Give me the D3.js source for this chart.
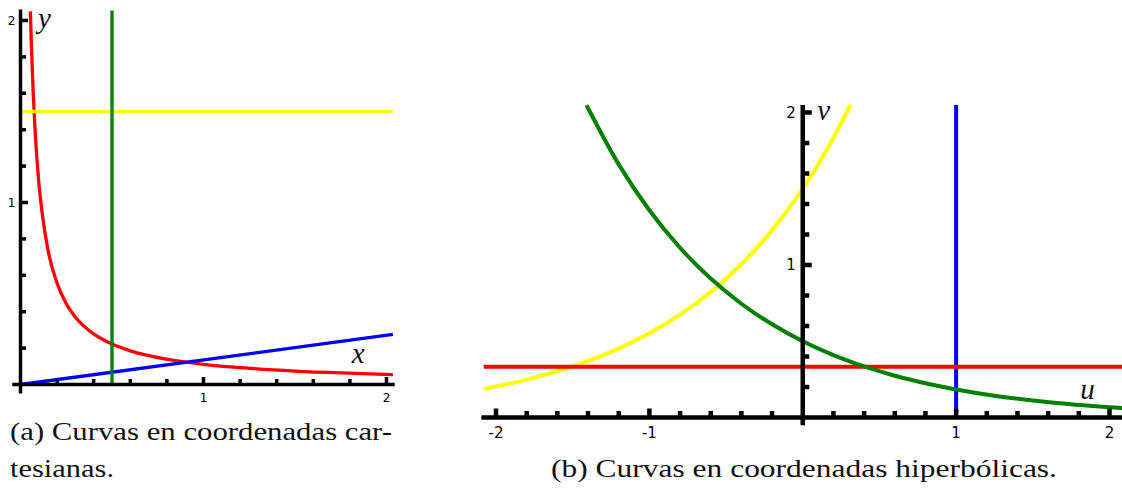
<!DOCTYPE html>
<html>
<head>
<meta charset="utf-8">
<script src="https://cdn.jsdelivr.net/npm/d3@7"></script>
<style>
  body { margin: 0; background: white; }
  svg { display: block; background: white; }
  .tick-label { font-family: "DejaVu Sans", sans-serif; fill: #000; }
  .axis-name { font-family: "Liberation Serif", serif; font-style: italic; font-size: 29px; fill: #111; }
  .caption { font-family: "Liberation Serif", serif; font-size: 25px; fill: #111; }
</style>
</head>
<body>
<svg width="1122" height="488"></svg>
<script>
// Panel (a), cartesian plane: points as (x, y)
const CART_HYPERBOLA = [
  [0.054, 2.05], [0.06, 1.85], [0.07, 1.59], [0.08, 1.39], [0.1, 1.11],
  [0.12, 0.93], [0.15, 0.74], [0.2, 0.556], [0.25, 0.444], [0.3, 0.37],
  [0.4, 0.278], [0.5, 0.222], [0.6, 0.185], [0.8, 0.139], [1.0, 0.111],
  [1.2, 0.093], [1.5, 0.074], [1.75, 0.0635], [2.035, 0.0546]
];
const CART_RAY = [[0, 0], [2.035, 0.275]];
const CART_VERTICAL = [[0.5, 0], [0.5, 2.055]];
const CART_HORIZONTAL = [[0.01, 1.5], [2.035, 1.5]];
const CART_X_LABELS = [1, 2];
const CART_Y_LABELS = [1, 2];

// Panel (b), hyperbolic coordinates: points as (u, v)
const HYP_V_CONST = [[-2.08, 0.333], [2.09, 0.333]];
const HYP_U_CONST = [[1, 0.03], [1, 2.05]];
const HYP_FROM_VERTICAL = [
  [-1.41, 2.048], [-1.2, 1.66], [-1.0, 1.359], [-0.8, 1.113], [-0.6, 0.911],
  [-0.4, 0.746], [-0.2, 0.611], [0, 0.5], [0.2, 0.409], [0.4, 0.335],
  [0.6, 0.274], [0.8, 0.225], [1.0, 0.184], [1.25, 0.143], [1.5, 0.112],
  [1.75, 0.087], [2.09, 0.062]
];
const HYP_FROM_HORIZONTAL = [
  [-2.08, 0.187], [-1.8, 0.248], [-1.5, 0.335], [-1.2, 0.452], [-1.0, 0.552],
  [-0.8, 0.674], [-0.6, 0.823], [-0.4, 1.005], [-0.2, 1.228], [0, 1.5],
  [0.15, 1.743], [0.312, 2.049]
];
const HYP_U_LABELS = [-2, -1, 1, 2];
const HYP_V_LABELS = [1, 2];

const
  RED = "#ff0000",
  GREEN = "#008000",
  BLUE = "#0000ff",
  YELLOW = "#ffff00"
;

const svg = d3.select("svg");
const is_major = t => Math.abs(t - Math.round(t)) < 1e-6;

// Draws two crossing axes with inward ticks
function draw_axes(g, x, y, opt) {
  const ax = x(0), ay = y(0);
  g.append("line")
    .attr("x1", x(opt.x_extent[0])).attr("x2", x(opt.x_extent[1]))
    .attr("y1", ay).attr("y2", ay);
  g.append("line")
    .attr("x1", ax).attr("x2", ax)
    .attr("y1", y(opt.y_extent[0])).attr("y2", y(opt.y_extent[1]));
  g.selectAll(".xtick")
    .data(x.ticks(opt.x_count).filter(t => t !== 0)).enter()
    .append("line")
      .attr("x1", x).attr("x2", x)
      .attr("y1", ay)
      .attr("y2", t => ay - (is_major(t) ? opt.major : opt.minor));
  g.selectAll(".ytick")
    .data(y.ticks(opt.y_count).filter(t => t !== 0)).enter()
    .append("line")
      .attr("y1", y).attr("y2", y)
      .attr("x1", ax)
      .attr("x2", t => ax + (is_major(t) ? opt.major : opt.minor));
  g.selectAll("line")
    .attr("stroke", "black")
    .attr("stroke-width", opt.width);
}

function draw_labels(g, x, y, x_labels, y_labels, opt) {
  g.selectAll(".xl")
    .data(x_labels).enter()
    .append("text")
      .attr("class", "tick-label")
      .attr("x", x)
      .attr("y", y(0) + opt.x_dy)
      .attr("text-anchor", "middle")
      .style("font-size", `${opt.x_size}px`)
      .text(d => d);
  g.selectAll(".yl")
    .data(y_labels).enter()
    .append("text")
      .attr("class", "tick-label")
      .attr("x", x(0) + opt.y_dx)
      .attr("y", y)
      .attr("dy", "0.36em")
      .attr("text-anchor", "end")
      .style("font-size", `${opt.y_size}px`)
      .text(d => d);
}

function draw_curves(g, x, y, curves, width) {
  const line = d3.line()
    .x(d => x(d[0]))
    .y(d => y(d[1]))
    .curve(d3.curveMonotoneX);
  g.selectAll("path")
    .data(curves).enter()
    .append("path")
      .attr("d", d => d.points[0][0] === d.points[d.points.length - 1][0]
        ? `M${x(d.points[0][0])},${y(d.points[0][1])}V${y(d.points[1][1])}`
        : line(d.points))
      .attr("fill", "none")
      .attr("stroke", d => d.color)
      .attr("stroke-width", width);
}

// Panel (a)
const cx = d3.scaleLinear([0, 2], [20.5, 386.5]);
const cy = d3.scaleLinear([0, 2], [384.5, 20.5]);
const left = svg.append("g");
draw_curves(left.append("g"), cx, cy, [
  {points: CART_HYPERBOLA, color: RED},
  {points: CART_RAY, color: BLUE},
  {points: CART_HORIZONTAL, color: YELLOW},
  {points: CART_VERTICAL, color: GREEN},
], 3.3);
draw_axes(left.append("g"), cx, cy, {
  x_extent: [-0.045, 2.045], y_extent: [-0.05, 2.06],
  x_count: 10, y_count: 10, major: 7.5, minor: 5.5, width: 3.5
});
draw_labels(left.append("g"), cx, cy, CART_X_LABELS, CART_Y_LABELS, {
  x_dy: 17, x_size: 12, y_dx: -5, y_size: 12
});
left.append("text").attr("class", "axis-name")
  .attr("x", cx(0.095)).attr("y", cy(1.96)).text("y");
left.append("text").attr("class", "axis-name")
  .attr("x", cx(1.81)).attr("y", cy(0.12)).text("x");

// Panel (b)
const hu = d3.scaleLinear([-2, 2], [496, 1109.5]);
const hv = d3.scaleLinear([0, 2], [417.5, 112.5]);
const right = svg.append("g");
draw_curves(right.append("g"), hu, hv, [
  {points: HYP_FROM_HORIZONTAL, color: YELLOW},
  {points: HYP_U_CONST, color: BLUE},
  {points: HYP_V_CONST, color: RED},
  {points: HYP_FROM_VERTICAL, color: GREEN},
], 4);
draw_axes(right.append("g"), hu, hv, {
  x_extent: [-2.095, 2.12], y_extent: [-0.05, 2.05],
  x_count: 20, y_count: 10, major: 9, minor: 6.5, width: 4.5
});
draw_labels(right.append("g"), hu, hv, HYP_U_LABELS, HYP_V_LABELS, {
  x_dy: 20, x_size: 15, y_dx: -7, y_size: 15
});
right.append("text").attr("class", "axis-name")
  .attr("x", hu(0.095)).attr("y", hv(1.95)).text("v");
right.append("text").attr("class", "axis-name")
  .attr("x", hu(1.81)).attr("y", hv(0.12)).text("u");

// Captions
svg.append("text").attr("class", "caption")
  .attr("x", 10).attr("y", 440)
  .attr("textLength", 382)
  .attr("lengthAdjust", "spacingAndGlyphs")
  .text("(a) Curvas en coordenadas car-");
svg.append("text").attr("class", "caption")
  .attr("x", 10).attr("y", 477)
  .attr("textLength", 104)
  .attr("lengthAdjust", "spacingAndGlyphs")
  .text("tesianas.");
svg.append("text").attr("class", "caption")
  .attr("x", 804).attr("y", 477)
  .attr("text-anchor", "middle")
  .attr("textLength", 506)
  .attr("lengthAdjust", "spacingAndGlyphs")
  .text("(b) Curvas en coordenadas hiperbólicas.");
</script>
</body>
</html>
